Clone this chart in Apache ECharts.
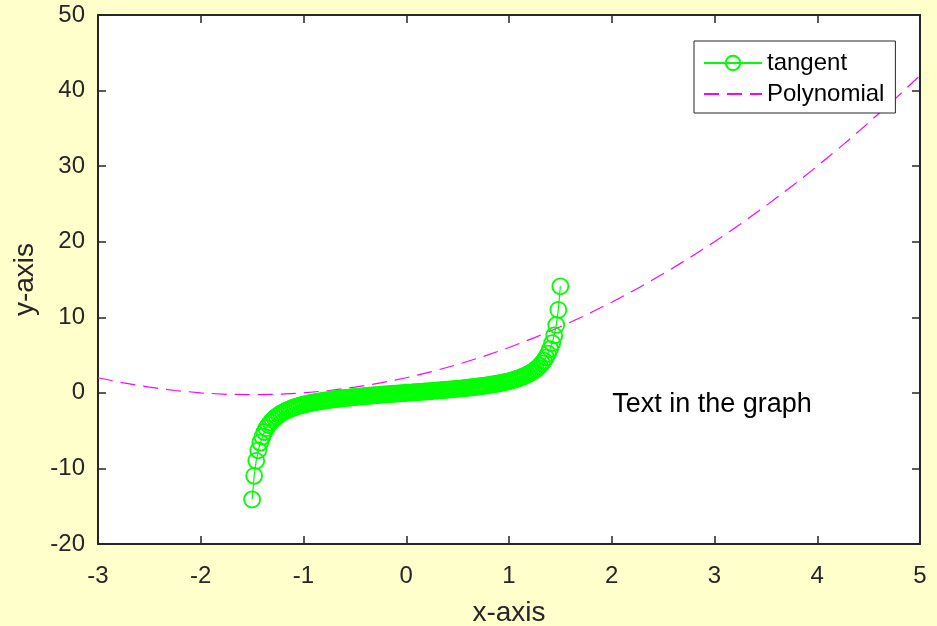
<!DOCTYPE html>
<html>
<head>
<meta charset="utf-8">
<script src="https://cdn.jsdelivr.net/npm/echarts@6/dist/echarts.min.js"></script>
<style>
    html, body { margin: 0; padding: 0; background: #ffffcc; }
    #main { width: 937px; height: 626px; }
</style>
</head>
<body>
<div id="main"></div>
<script>
// tan(x) samples
var tanX = [
    -1.50,-1.48,-1.46,-1.44,-1.42,-1.40,-1.38,-1.36,-1.34,-1.32,-1.30,-1.28,-1.26,
    -1.24,-1.22,-1.20,-1.18,-1.16,-1.14,-1.12,-1.10,-1.08,-1.06,-1.04,-1.02,-1.00,
    -0.98,-0.96,-0.94,-0.92,-0.90,-0.88,-0.86,-0.84,-0.82,-0.80,-0.78,-0.76,-0.74,
    -0.72,-0.70,-0.68,-0.66,-0.64,-0.62,-0.60,-0.58,-0.56,-0.54,-0.52,-0.50,-0.48,
    -0.46,-0.44,-0.42,-0.40,-0.38,-0.36,-0.34,-0.32,-0.30,-0.28,-0.26,-0.24,-0.22,
    -0.20,-0.18,-0.16,-0.14,-0.12,-0.10,-0.08,-0.06,-0.04,-0.02,0,
    0.02,0.04,0.06,0.08,0.10,0.12,0.14,0.16,0.18,0.20,0.22,0.24,0.26,
    0.28,0.30,0.32,0.34,0.36,0.38,0.40,0.42,0.44,0.46,0.48,0.50,0.52,
    0.54,0.56,0.58,0.60,0.62,0.64,0.66,0.68,0.70,0.72,0.74,0.76,0.78,
    0.80,0.82,0.84,0.86,0.88,0.90,0.92,0.94,0.96,0.98,1.00,1.02,1.04,
    1.06,1.08,1.10,1.12,1.14,1.16,1.18,1.20,1.22,1.24,1.26,1.28,1.30,
    1.32,1.34,1.36,1.38,1.40,1.42,1.44,1.46,1.48,1.50
];
var tanY = [
    -14.10,-10.98,-8.99,-7.60,-6.58,-5.80,-5.18,-4.67,-4.26,-3.90,-3.60,-3.34,-3.11,
    -2.91,-2.73,-2.57,-2.43,-2.30,-2.18,-2.07,-1.96,-1.87,-1.78,-1.70,-1.63,-1.56,
    -1.49,-1.43,-1.37,-1.31,-1.26,-1.21,-1.16,-1.12,-1.07,-1.03,-0.99,-0.95,-0.91,
    -0.88,-0.84,-0.81,-0.78,-0.74,-0.71,-0.68,-0.66,-0.63,-0.60,-0.57,-0.55,-0.52,
    -0.50,-0.47,-0.45,-0.42,-0.40,-0.38,-0.35,-0.33,-0.31,-0.29,-0.27,-0.24,-0.22,
    -0.20,-0.18,-0.16,-0.14,-0.12,-0.10,-0.08,-0.06,-0.04,-0.02,0,
    0.02,0.04,0.06,0.08,0.10,0.12,0.14,0.16,0.18,0.20,0.22,0.24,0.27,
    0.29,0.31,0.33,0.35,0.38,0.40,0.42,0.45,0.47,0.50,0.52,0.55,0.57,
    0.60,0.63,0.66,0.68,0.71,0.74,0.78,0.81,0.84,0.88,0.91,0.95,0.99,
    1.03,1.07,1.12,1.16,1.21,1.26,1.31,1.37,1.43,1.49,1.56,1.63,1.70,
    1.78,1.87,1.96,2.07,2.18,2.30,2.43,2.57,2.73,2.91,3.11,3.34,3.60,
    3.90,4.26,4.67,5.18,5.80,6.58,7.60,8.99,10.98,14.10
];

// fitted polynomial (dashed curve)
var polyX = [-3,-2.75,-2.5,-2.25,-2,-1.75,-1.5,-1.25,-1,-0.75,-0.5,-0.25,0,
    0.25,0.5,0.75,1,1.25,1.5,1.75,2,2.25,2.5,2.75,3,3.25,3.5,3.75,4,4.25,4.5,4.75,5];
var polyY = [2,1.31,0.75,0.31,0,-0.19,-0.25,-0.19,0,0.31,0.75,1.31,2,
    2.81,3.75,4.81,6,7.31,8.75,10.31,12,13.81,15.75,17.81,20,22.31,24.75,27.31,30,32.81,35.75,38.81,42];

var xTicks = [-3, 5, 1];   // min, max, step
var yTicks = [-20, 50, 10];
var note = {x: 2, y: -1.5, text: 'Text in the graph'};

function pairs(xs, ys) {
    var out = [];
    for (var i = 0; i < xs.length; i++) out.push([xs[i], ys[i]]);
    return out;
}

var dom = document.getElementById('main');
var myChart = echarts.init(dom, null, {renderer: 'canvas'});
var axisColor = '#262626';
var font = '"Liberation Sans", Arial, Helvetica, sans-serif';

function xAxisCfg(pos, labels) {
    return {
        type: 'value', position: pos,
        min: xTicks[0], max: xTicks[1], interval: xTicks[2],
        name: labels ? 'x-axis' : '',
        nameLocation: 'middle', nameGap: 55,
        nameTextStyle: {fontSize: 28, color: axisColor, fontFamily: font},
        axisLine: {show: true, onZero: false, lineStyle: {color: axisColor, width: 2}},
        axisTick: {show: true, inside: true, length: 8, lineStyle: {color: axisColor, width: 1.5}},
        axisLabel: {show: labels, margin: 20, fontSize: 24, color: axisColor, fontFamily: font},
        splitLine: {show: false}
    };
}
function yAxisCfg(pos, labels) {
    return {
        type: 'value', position: pos,
        min: yTicks[0], max: yTicks[1], interval: yTicks[2],
        name: labels ? 'y-axis' : '',
        nameLocation: 'middle', nameGap: 57,
        nameTextStyle: {fontSize: 28, color: axisColor, fontFamily: font},
        axisLine: {show: true, onZero: false, lineStyle: {color: axisColor, width: 2}},
        axisTick: {show: true, inside: true, length: 8, lineStyle: {color: axisColor, width: 1.5}},
        axisLabel: {show: labels, margin: 13, fontSize: 24, color: axisColor, fontFamily: font},
        splitLine: {show: false}
    };
}

option = {
    animation: false,
    backgroundColor: '#ffffcc',
    textStyle: {fontFamily: font},
    grid: {
        left: 98, right: 17, top: 15, bottom: 82,
        outerBoundsMode: 'none', containLabel: false,
        show: true, backgroundColor: '#ffffff', borderWidth: 0
    },
    legend: {
        data: [
            {name: 'tangent'},
            {name: 'Polynomial', itemStyle: {opacity: 0}}
        ],
        orient: 'vertical',
        left: 694, top: 41,
        padding: [10, 11, 7, 9],
        itemWidth: 58, itemHeight: 18, itemGap: 7,
        backgroundColor: '#ffffff',
        borderColor: axisColor, borderWidth: 1,
        textStyle: {fontSize: 24, color: '#000000', fontFamily: font}
    },
    xAxis: [xAxisCfg('bottom', true), xAxisCfg('top', false)],
    yAxis: [yAxisCfg('left', true), yAxisCfg('right', false)],
    series: [
        {
            name: 'tangent',
            type: 'line',
            data: pairs(tanX, tanY),
            symbol: 'circle',
            symbolSize: 16,
            showAllSymbol: true,
            lineStyle: {color: '#00ff00', width: 1.2},
            itemStyle: {color: 'rgba(0,0,0,0)', borderColor: '#00ff00', borderWidth: 1.8}
        },
        {
            name: 'Polynomial',
            type: 'line',
            data: pairs(polyX, polyY),
            symbol: 'none',
            lineStyle: {color: '#ff00ff', width: 1.2, type: [15, 8]},
            itemStyle: {color: '#ff00ff'}
        },
        {
            name: 'note',
            type: 'scatter',
            data: [[note.x, note.y]],
            symbolSize: 1,
            silent: true,
            z: 5,
            itemStyle: {color: 'rgba(255,255,255,0)'},
            label: {
                show: true, position: 'right', distance: 0,
                formatter: note.text,
                fontSize: 27, color: '#000000', opacity: 1, fontFamily: font
            }
        }
    ]
};

if (option && typeof option === 'object') {
    myChart.setOption(option, true);
}
</script>
</body>
</html>
